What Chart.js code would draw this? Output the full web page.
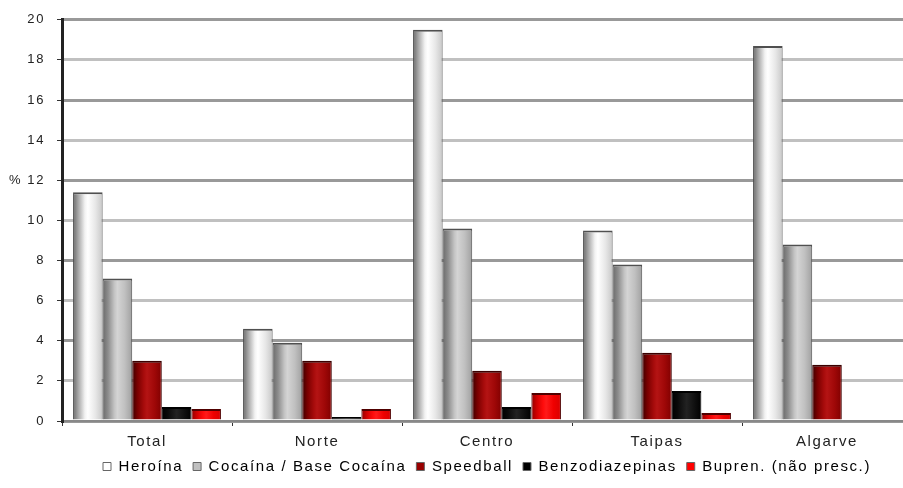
<!DOCTYPE html>
<html><head><meta charset="utf-8">
<script src="https://cdn.jsdelivr.net/npm/chart.js@4/dist/chart.umd.min.js"></script>
<style>
html,body{margin:0;padding:0;background:#fff;overflow:hidden;}
#wrap{width:912px;height:488px;position:relative;}
</style></head>
<body><div id="wrap"><canvas id="c"></canvas></div>
<script>
const categories = ["Total", "Norte", "Centro", "Taipas", "Algarve"];
const seriesNames = ["Heroína", "Cocaína / Base Cocaína", "Speedball", "Benzodiazepinas", "Bupren. (não presc.)"];
const heroina = [11.4, 4.6, 19.5, 9.5, 18.7];
const cocaina = [7.1, 3.9, 9.6, 7.8, 8.8];
const speedball = [3.0, 3.0, 2.5, 3.4, 2.8];
const benzodiazepinas = [0.7, 0.2, 0.7, 1.5, null];
const bupren = [0.6, 0.6, 1.4, 0.4, null];
const yTicks = [0, 2, 4, 6, 8, 10, 12, 14, 16, 18, 20];

const FONT = "'Liberation Sans', Arial, sans-serif";
const fills = ["#ffffff", "#c0c0c0", "#990000", "#000000", "#ff0000"];
const gradStops = [
  ["#6a6a6a", "#a8a8a8", "#f2f2f2", "#ffffff", "#e8e8e8", "#c8c8c8"],
  ["#6a6a6a", "#8c8c8c", "#c4c4c4", "#d4d4d4", "#c0c0c0", "#a0a0a0"],
  ["#3c0000", "#7a0000", "#a80c0c", "#b41414", "#a00808", "#800000"],
  ["#000000", "#080808", "#1a1a1a", "#222222", "#111111", "#000000"],
  ["#900000", "#d00000", "#ff0c0c", "#ff1a1a", "#f00000", "#d80000"]
];
const borders = ["#505050", "#505050", "#3a0000", "#000000", "#500000"];
const allData = [heroina, cocaina, speedball, benzodiazepinas, bupren];

const spacingPlugin = {
  id: "spacing",
  beforeLayout(chart) { chart.ctx.letterSpacing = "1.6px"; },
  beforeDraw(chart) { chart.ctx.letterSpacing = "1.6px"; }
};

const gradPlugin = {
  id: "grad",
  beforeDatasetsDraw(chart) {
    const ctx = chart.ctx;
    chart.data.datasets.forEach((ds, di) => {
      const meta = chart.getDatasetMeta(di);
      meta.data.forEach(el => {
        if (!el || el.width == null) return;
        const x0 = el.x - el.width / 2, x1 = el.x + el.width / 2;
        const g = ctx.createLinearGradient(x0, 0, x1, 0);
        const st = gradStops[di];
        const pos = [0, 0.18, 0.4, 0.5, 0.75, 1];
        st.forEach((c, i) => g.addColorStop(pos[i], c));
        el.options = Object.assign({}, el.options, {backgroundColor: g});
      });
    });
  }
};

const pctPlugin = {
  id: "pct",
  afterDraw(chart) {
    const y = chart.scales.y.getPixelForValue(12);
    const ctx = chart.ctx;
    ctx.save();
    ctx.font = "13px " + FONT;
    ctx.fillStyle = "#222";
    ctx.textAlign = "left";
    ctx.textBaseline = "middle";
    ctx.fillText("%", 9, y);
    ctx.restore();
  }
};

new Chart(document.getElementById("c"), {
  type: "bar",
  data: {
    labels: categories,
    datasets: seriesNames.map((n, i) => ({
      label: n,
      data: allData[i],
      backgroundColor: () => fills[i],
      borderColor: borders[i],
      borderWidth: {top: 2, left: 1, right: 1, bottom: 0},
      borderSkipped: false,
      categoryPercentage: 0.87,
      barPercentage: 1.0
    }))
  },
  options: {
    responsive: true,
    maintainAspectRatio: false,
    animation: false,
    layout: {padding: {top: 14, left: 10, right: 0, bottom: 4}},
    plugins: {
      tooltip: {enabled: false},
      legend: {
        position: "bottom",
        fullSize: false,
        labels: {
          boxWidth: 8, boxHeight: 8, padding: 10,
          color: "#222",
          font: {family: FONT, size: 15},
          generateLabels: (chart) => seriesNames.map((n, i) => ({
            text: n, fillStyle: fills[i], strokeStyle: "#666", lineWidth: 1, datasetIndex: i
          }))
        }
      }
    },
    scales: {
      x: {
        afterFit: (s) => { s.height = 28; },
        grid: {drawOnChartArea: false, tickLength: 5, tickColor: "#333", lineWidth: 1, offset: true},
        border: {color: "#888", width: 2},
        ticks: {color: "#222", padding: 7, font: {family: FONT, size: 15}}
      },
      y: {
        min: 0, max: 20,
        afterBuildTicks: (s) => { s.ticks = yTicks.map(v => ({value: v})); },
        afterFit: (s) => { s.width = 52; },
        grid: {color: (c) => (c.index % 2 ? "#c0c0c0" : "#999999"), lineWidth: 3, tickLength: 5, tickColor: "#333", tickWidth: 1},
        border: {color: "#222", width: 3},
        ticks: {color: "#222", padding: 12, font: {family: FONT, size: 13}}
      }
    }
  },
  plugins: [spacingPlugin, gradPlugin, pctPlugin]
});
</script>
</body></html>
